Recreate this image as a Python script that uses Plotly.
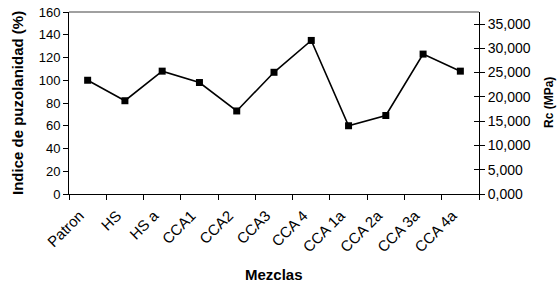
import plotly.graph_objects as go

mezclas = ["Patron", "HS", "HS a", "CCA1", "CCA2", "CCA3", "CCA 4",
           "CCA 1a", "CCA 2a", "CCA 3a", "CCA 4a"]
indice_puzolanidad = [100, 82, 108, 98, 73, 107, 135, 60, 69, 123, 108]
rc_ticks = [0, 5, 10, 15, 20, 25, 30, 35]

FONT = "Arial, Liberation Sans, sans-serif"

fig = go.Figure()
fig.add_trace(go.Scatter(
    x=mezclas, y=indice_puzolanidad, mode="lines+markers",
    line=dict(color="black", width=1.6),
    marker=dict(symbol="square", size=7, color="black"),
    showlegend=False, hoverinfo="x+y"))
# secondary axis (Rc) carrier traces, no visible data
fig.add_trace(go.Scatter(x=mezclas, y=[None] * len(mezclas), yaxis="y2",
                         showlegend=False, hoverinfo="skip"))
fig.add_trace(go.Scatter(x=mezclas, y=[None] * len(mezclas), yaxis="y3",
                         showlegend=False, hoverinfo="skip"))

fig.update_layout(
    template="none",
    width=558, height=283,
    margin=dict(l=69, r=79, t=12, b=89, autoexpand=False),
    paper_bgcolor="white", plot_bgcolor="white",
    separators=",.",
    font=dict(family=FONT, size=13, color="black"),
    xaxis=dict(type="category", range=[-0.5, len(mezclas) - 0.5],
               tickson="boundaries", ticks="outside", ticklen=5,
               tickcolor="black", showline=True, linecolor="black",
               linewidth=1, showgrid=False, tickangle=-45,
               ticklabelstandoff=6, ticklabelshift=-8,
               tickfont=dict(size=15), zeroline=False, automargin=False),
    yaxis=dict(range=[0, 160], dtick=20, ticks="outside", ticklen=5,
               tickcolor="black", showline=True, linecolor="black",
               linewidth=1, showgrid=False, zeroline=False,
               tickfont=dict(size=13), automargin=False),
    yaxis2=dict(overlaying="y", side="right", anchor="x",
                range=[0, 37.47], tickvals=rc_ticks, tickformat=".3f",
                ticks="outside", ticklen=5, tickcolor="black",
                showline=True, linecolor="black", linewidth=1,
                showgrid=False, zeroline=False, tickfont=dict(size=14),
                automargin=False),
    yaxis3=dict(overlaying="y", side="right", anchor="x",
                range=[0, 37.47], tickvals=rc_ticks, ticks="inside",
                ticklen=5, tickcolor="black", showticklabels=False,
                showline=False, showgrid=False, zeroline=False,
                automargin=False),
    shapes=[dict(type="line", xref="paper", yref="paper", x0=0, x1=1,
                 y0=1, y1=1, line=dict(color="#808080", width=1.5))],
    annotations=[
        dict(text="<b>Indice de puzolanidad (%)</b>", xref="paper",
             yref="paper", x=0, y=0.5, xshift=-52, textangle=-90,
             showarrow=False, xanchor="center", yanchor="middle",
             font=dict(size=15)),
        dict(text="<b>Mezclas</b>", xref="paper", yref="paper", x=0.5,
             y=0, yshift=-80, showarrow=False, xanchor="center",
             yanchor="middle", font=dict(size=15)),
        dict(text="<b>Rc (MPa)</b>", xref="paper", yref="paper", x=1,
             y=0.5, xshift=70, textangle=-90, showarrow=False,
             xanchor="center", yanchor="middle", font=dict(size=12)),
    ],
)

fig.write_html("out.html",
               config={"displayModeBar": False},
               post_script="document.body.style.margin='0';"
                           "document.body.style.padding='0';")
